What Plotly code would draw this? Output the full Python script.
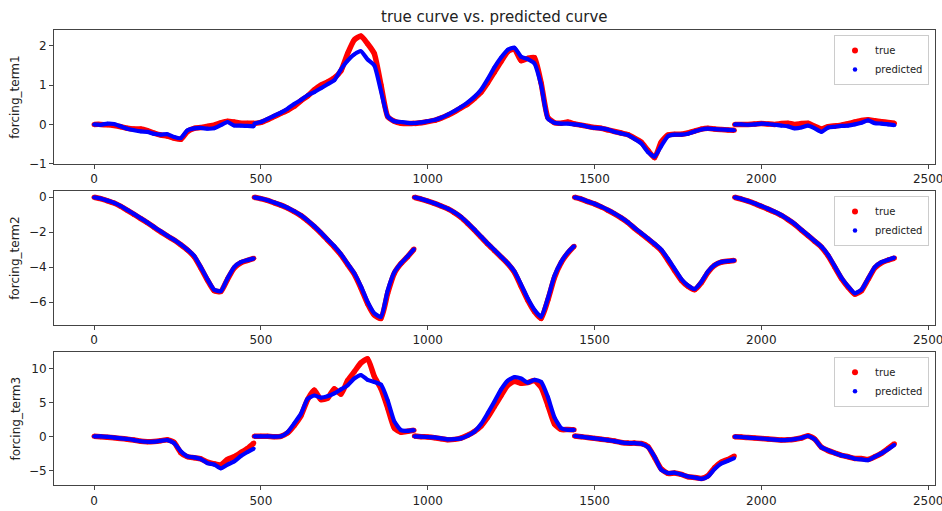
import plotly.graph_objects as go

# Each series is sampled every 20 steps inside five runs of 480 steps (0-479, 480-959, ...)
SEG_LEN = 480
N_SEG = 5
OFFSETS = list(range(0, 480, 20)) + [479]

# forcing_term1
term1_true = [
    0.00, 0.00, -0.01, -0.03, -0.06, -0.10, -0.12, -0.12, -0.16, -0.22, -0.27, -0.30, -0.35, -0.38, -0.18, -0.10, -0.08, -0.05, -0.02, 0.04, 0.08, 0.06, 0.03, 0.03, 0.03,
    0.02, 0.05, 0.12, 0.20, 0.28, 0.36, 0.46, 0.60, 0.72, 0.88, 1.00, 1.08, 1.18, 1.36, 1.80, 2.15, 2.25, 2.05, 1.80, 1.00, 0.20, 0.08, 0.03, 0.02, 0.03,
    0.02, 0.04, 0.07, 0.10, 0.16, 0.23, 0.32, 0.42, 0.52, 0.66, 0.82, 1.06, 1.33, 1.60, 1.85, 1.92, 1.62, 1.68, 1.70, 1.05, 0.18, 0.04, 0.03, 0.06, 0.01,
    0.01, -0.02, -0.05, -0.08, -0.10, -0.14, -0.18, -0.22, -0.26, -0.35, -0.45, -0.66, -0.85, -0.45, -0.27, -0.25, -0.25, -0.22, -0.17, -0.12, -0.10, -0.12, -0.13, -0.14, -0.15,
    0.00, 0.00, 0.00, 0.01, 0.02, 0.01, 0.00, 0.02, 0.03, 0.00, 0.02, 0.03, -0.05, -0.12, -0.06, -0.04, -0.02, 0.02, 0.06, 0.10, 0.12, 0.09, 0.07, 0.05, 0.03,
]
term1_pred = [
    0.00, -0.01, 0.02, 0.01, -0.05, -0.11, -0.15, -0.18, -0.19, -0.24, -0.26, -0.25, -0.32, -0.35, -0.15, -0.10, -0.09, -0.11, -0.10, -0.02, 0.06, -0.03, -0.03, -0.04, -0.05,
    0.02, 0.06, 0.14, 0.22, 0.30, 0.40, 0.52, 0.62, 0.74, 0.82, 0.92, 1.02, 1.12, 1.40, 1.62, 1.78, 1.86, 1.65, 1.50, 0.85, 0.20, 0.08, 0.06, 0.04, 0.03,
    0.03, 0.05, 0.08, 0.11, 0.17, 0.25, 0.34, 0.44, 0.56, 0.70, 0.88, 1.15, 1.45, 1.70, 1.90, 1.95, 1.72, 1.66, 1.55, 1.00, 0.15, 0.04, 0.02, 0.02, 0.00,
    0.00, -0.02, -0.06, -0.09, -0.10, -0.13, -0.19, -0.23, -0.27, -0.37, -0.48, -0.70, -0.82, -0.55, -0.30, -0.26, -0.26, -0.24, -0.18, -0.13, -0.11, -0.12, -0.13, -0.14, -0.15,
    0.00, 0.00, -0.01, 0.00, 0.02, 0.01, -0.01, -0.03, -0.05, -0.10, -0.08, -0.03, -0.10, -0.19, -0.08, -0.06, -0.04, -0.03, 0.00, 0.04, 0.10, 0.03, 0.02, 0.00, -0.02,
]

# forcing_term2
term2_true = [
    0.00, -0.08, -0.20, -0.33, -0.52, -0.75, -0.98, -1.22, -1.46, -1.72, -1.98, -2.22, -2.45, -2.72, -3.02, -3.40, -4.05, -4.75, -5.35, -5.40, -4.70, -4.05, -3.75, -3.62, -3.50,
    0.00, -0.08, -0.18, -0.32, -0.45, -0.62, -0.82, -1.05, -1.35, -1.68, -2.05, -2.45, -2.85, -3.30, -3.85, -4.40, -5.20, -6.10, -6.75, -6.95, -5.50, -4.35, -3.80, -3.40, -2.97,
    0.00, -0.10, -0.22, -0.35, -0.50, -0.66, -0.88, -1.15, -1.50, -1.88, -2.28, -2.68, -3.05, -3.42, -3.80, -4.30, -5.10, -5.90, -6.55, -6.95, -5.90, -4.60, -3.75, -3.20, -2.80,
    0.00, -0.10, -0.25, -0.38, -0.55, -0.74, -0.95, -1.18, -1.45, -1.78, -2.08, -2.38, -2.70, -3.05, -3.60, -4.20, -4.75, -5.10, -5.30, -4.90, -4.30, -3.90, -3.72, -3.66, -3.62,
    0.00, -0.10, -0.22, -0.36, -0.52, -0.68, -0.85, -1.04, -1.28, -1.55, -1.88, -2.20, -2.52, -2.85, -3.35, -4.00, -4.65, -5.15, -5.55, -5.35, -4.70, -4.05, -3.75, -3.60, -3.48,
]
term2_pred = [
    0.00, -0.07, -0.19, -0.32, -0.50, -0.73, -0.96, -1.20, -1.44, -1.70, -1.95, -2.20, -2.43, -2.70, -3.00, -3.35, -4.00, -4.70, -5.30, -5.38, -4.65, -4.00, -3.72, -3.60, -3.50,
    0.00, -0.07, -0.17, -0.30, -0.44, -0.60, -0.80, -1.03, -1.32, -1.65, -2.02, -2.42, -2.80, -3.25, -3.80, -4.35, -5.10, -6.00, -6.65, -6.85, -5.35, -4.30, -3.78, -3.38, -2.97,
    0.00, -0.09, -0.21, -0.34, -0.49, -0.65, -0.86, -1.12, -1.47, -1.85, -2.25, -2.65, -3.02, -3.40, -3.78, -4.25, -5.00, -5.80, -6.45, -6.85, -5.80, -4.50, -3.70, -3.15, -2.80,
    0.00, -0.09, -0.24, -0.37, -0.54, -0.72, -0.93, -1.16, -1.43, -1.75, -2.05, -2.35, -2.66, -3.00, -3.52, -4.10, -4.68, -5.05, -5.25, -4.85, -4.25, -3.88, -3.70, -3.65, -3.62,
    0.00, -0.09, -0.21, -0.35, -0.50, -0.66, -0.83, -1.02, -1.26, -1.52, -1.85, -2.17, -2.50, -2.82, -3.30, -3.95, -4.60, -5.10, -5.50, -5.30, -4.65, -4.00, -3.72, -3.58, -3.45,
]

# forcing_term3
term3_true = [
    0.00, -0.05, -0.12, -0.22, -0.32, -0.42, -0.55, -0.72, -0.78, -0.75, -0.65, -0.50, -0.90, -2.40, -3.00, -3.15, -3.30, -3.80, -4.05, -4.20, -3.40, -3.00, -2.40, -1.80, -1.00,
    0.00, 0.00, 0.00, -0.05, 0.00, 0.50, 1.60, 3.00, 5.40, 6.80, 5.40, 5.60, 7.00, 6.20, 8.20, 9.50, 10.80, 11.40, 8.80, 7.00, 4.20, 1.20, 0.60, 0.75, 0.90,
    0.05, -0.05, -0.10, -0.20, -0.35, -0.50, -0.45, -0.25, 0.15, 0.70, 1.50, 2.80, 4.40, 6.00, 7.50, 8.10, 7.80, 7.90, 8.20, 7.20, 4.60, 1.80, 1.00, 1.00, 0.95,
    0.05, -0.05, -0.18, -0.30, -0.42, -0.55, -0.70, -0.90, -1.00, -1.00, -1.05, -1.50, -3.10, -4.80, -5.45, -5.40, -5.60, -5.95, -6.05, -6.20, -5.80, -4.60, -3.80, -3.40, -2.90,
    -0.05, -0.10, -0.18, -0.25, -0.32, -0.40, -0.48, -0.55, -0.52, -0.42, -0.25, 0.10, -0.40, -1.60, -2.10, -2.45, -2.80, -3.00, -3.25, -3.25, -3.40, -3.00, -2.50, -1.80, -1.10,
]
term3_pred = [
    0.00, 0.00, -0.08, -0.18, -0.30, -0.40, -0.55, -0.72, -0.80, -0.78, -0.65, -0.55, -1.00, -2.20, -2.95, -3.10, -3.35, -3.95, -4.15, -4.70, -4.15, -3.70, -2.90, -2.30, -1.80,
    0.00, 0.00, 0.00, -0.05, 0.00, 0.60, 1.90, 3.30, 5.50, 6.00, 5.70, 5.90, 6.30, 6.90, 7.50, 8.50, 9.00, 8.30, 8.00, 7.60, 5.30, 2.20, 0.90, 0.80, 0.90,
    0.00, -0.05, -0.10, -0.15, -0.30, -0.45, -0.40, -0.30, 0.10, 0.70, 1.80, 3.40, 5.10, 6.90, 8.20, 8.70, 8.50, 7.90, 8.30, 8.00, 5.80, 2.80, 1.20, 0.95, 0.95,
    0.05, -0.05, -0.18, -0.30, -0.42, -0.55, -0.70, -0.90, -1.00, -1.00, -1.10, -1.60, -3.00, -4.90, -5.40, -5.35, -5.60, -5.90, -6.05, -6.25, -5.90, -4.80, -4.00, -3.60, -3.20,
    -0.05, -0.10, -0.18, -0.25, -0.32, -0.40, -0.48, -0.55, -0.52, -0.42, -0.25, 0.05, -0.45, -1.60, -2.05, -2.45, -2.80, -3.00, -3.30, -3.40, -3.50, -3.00, -2.50, -1.90, -1.25,
]

y_labels = ["forcing_term1", "forcing_term2", "forcing_term3"]
y_ranges = [[-1.0, 2.4], [-7.3, 0.36], [-7.2, 12.44]]
y_ticks = [[-1, 0, 1, 2], [-6, -4, -2, 0], [-5, 0, 5, 10]]
x_ticks = [0, 500, 1000, 1500, 2000, 2500]
title = "true curve vs. predicted curve"

W, H = 942, 511
FONT = "DejaVu Sans"
# axes boxes in pixels: (top, bottom)
PLOT_LEFT, PLOT_RIGHT = 54, 934.5
PANEL_ROWS = [(30, 163.7), (191, 324.7), (351.7, 485.3)]


def segmented(values):
    """Split a series into its runs, separated by gaps so lines do not join runs."""
    xs, ys = [], []
    n = len(OFFSETS)
    for s in range(N_SEG):
        for k, off in enumerate(OFFSETS):
            xs.append(s * SEG_LEN + off)
            ys.append(values[s * n + k])
        xs.append(None)
        ys.append(None)
    return xs, ys


fig = go.Figure()
series = [(term1_true, term1_pred), (term2_true, term2_pred), (term3_true, term3_pred)]
for i, (tr, pr) in enumerate(series, start=1):
    sfx = "" if i == 1 else str(i)
    xa, ya, lg = "x" + sfx, "y" + sfx, "legend" + sfx
    for vals, color, lw in [(tr, "#ff0000", 5.5), (pr, "#0000ff", 4.2)]:
        xs, ys = segmented(vals)
        fig.add_trace(go.Scatter(
            x=xs, y=ys, mode="lines+markers", xaxis=xa, yaxis=ya,
            line=dict(color=color, width=lw, shape="spline", smoothing=0.5),
            marker=dict(color=color, size=lw - 0.5),
            showlegend=False, hoverinfo="skip", connectgaps=False,
        ))
    # legend entries: dots only
    for color, sz, name in [("#ff0000", 6, "true"), ("#0000ff", 4.5, "predicted")]:
        fig.add_trace(go.Scatter(
            x=[None], y=[None], mode="markers", xaxis=xa, yaxis=ya,
            marker=dict(color=color, size=sz), name=name, legend=lg, showlegend=True,
        ))

axis_style = dict(
    showline=True, linecolor="#444", linewidth=1, mirror=True,
    ticks="outside", ticklen=4, tickwidth=1, tickcolor="#444",
    showgrid=False, zeroline=False, automargin=False, ticklabeloverflow="allow",
    tickfont=dict(family=FONT, size=12, color="#222"),
)

layout = dict(
    width=W, height=H, autosize=False,
    margin=dict(l=0, r=0, t=0, b=0, autoexpand=False),
    paper_bgcolor="white", plot_bgcolor="white",
    font=dict(family=FONT, color="#222"),
    annotations=[],
)
xdom = [PLOT_LEFT / W, PLOT_RIGHT / W]
for i, (top, bot) in enumerate(PANEL_ROWS, start=1):
    sfx = "" if i == 1 else str(i)
    ydom = [1 - bot / H, 1 - top / H]
    layout["xaxis" + sfx] = dict(axis_style, domain=xdom, anchor="y" + sfx,
                                 range=[-120, 2519], tickvals=x_ticks)
    layout["yaxis" + sfx] = dict(axis_style, domain=ydom, anchor="x" + sfx,
                                 range=y_ranges[i - 1], tickvals=y_ticks[i - 1])
    layout["legend" + sfx] = dict(
        x=929 / W, xanchor="right", y=1 - (top + 5) / H, yanchor="top",
        bgcolor="rgba(255,255,255,0.8)", bordercolor="#cccccc", borderwidth=1,
        font=dict(family=FONT, size=10, color="#222"),
        itemwidth=30, tracegroupgap=0,
    )
    layout["annotations"].append(dict(
        text=y_labels[i - 1], textangle=-90, xref="paper", yref="paper",
        x=15 / W, y=1 - (top + bot) / 2 / H, xanchor="center", yanchor="middle",
        showarrow=False, font=dict(family=FONT, size=12, color="#222"),
    ))

layout["annotations"].append(dict(
    text=title, xref="paper", yref="paper", x=(PLOT_LEFT + PLOT_RIGHT) / 2 / W,
    y=1 - 17 / H, xanchor="center", yanchor="middle", showarrow=False,
    font=dict(family=FONT, size=15, color="#222"),
))

fig.update_layout(**layout)
fig.write_html("out.html")
